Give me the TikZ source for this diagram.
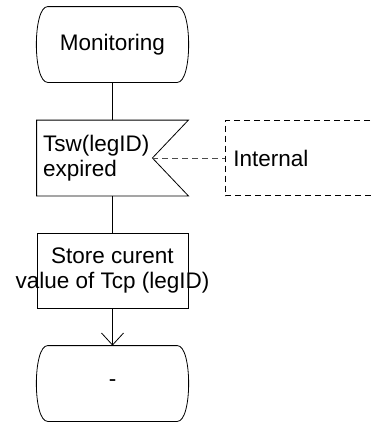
\documentclass[tikz,border=0pt]{standalone}
\usepackage{fontspec}
\setmainfont{Liberation Sans}
\usetikzlibrary{arrows.meta}
\tikzset{
	sym/.style={minimum width=151pt, minimum height=75pt, inner sep=0pt, font=\fontsize{22.5}{25}\selectfont},
	dashes/.style={dash pattern=on 6pt off 4pt},
}
% SDL state symbol, drawn round a node
\newcommand{\stateshape}[1]{%
	\draw ([xshift=11pt]#1.north west) -- ([xshift=-11pt]#1.north east)
		.. controls ([xshift=4pt]#1.north east) and ([xshift=4pt]#1.south east) .. ([xshift=-11pt]#1.south east)
		-- ([xshift=11pt]#1.south west)
		.. controls ([xshift=-4pt]#1.south west) and ([xshift=-4pt]#1.north west) .. cycle;}

\begin{document}
\begin{tikzpicture}[x=1pt, y=-1pt, line width=0.8pt]
			\useasboundingbox (0,0) rectangle (371,423);
			\clip (0,0) rectangle (371,423);
			\node[sym] (mon) at (112.5,44.5) {Monitoring};
			\stateshape{mon}
			% internal input
			\node[sym, text width=139pt, align=left] (tsw) at (112.5,158) {Tsw(legID)\\expired};
			\coordinate (notch) at ([xshift=-36pt]tsw.east);
			\draw (tsw.north west) -- (tsw.north east) -- (notch) -- (tsw.south east) -- (tsw.south west) -- cycle;
			% signal source, cut off at the right
			\node[font=\fontsize{22.5}{25}\selectfont, inner sep=0pt, anchor=west] (src) at (233,158) {Internal};
			\coordinate (srcin) at (225,158);
			\draw[dashes] (390,120.5) -- (225,120.5) -- (225,195.5) -- (390,195.5);
			\draw[dashes, color=black!70] (notch) -- (srcin);
			% task
			\node[sym, draw] (task) at (112.5,270.5) {};
			\node[font=\fontsize{22.5}{25}\selectfont, align=center] (tasklbl) at (task) {Store curent\\value of Tcp (legID)};
			\node[sym] (next) at (112.5,383.5) {-};
			\stateshape{next}
			\draw (mon) -- (tsw);
			\draw (tsw) -- (task);
			\draw[-{Straight Barb[length=12pt,width=22pt]}] (task) -- (next);
		\end{tikzpicture}
\end{document}
